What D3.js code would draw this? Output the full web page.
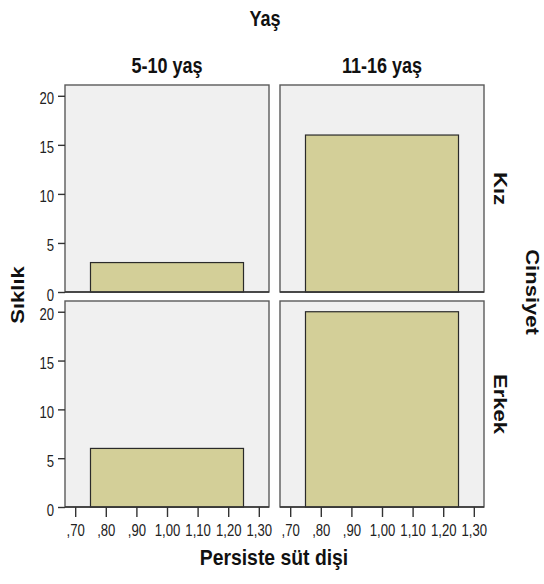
<!DOCTYPE html>
<html><head><meta charset="utf-8">
<script src="https://cdn.jsdelivr.net/npm/d3@7"></script>
<style>body{margin:0;background:#fff}svg{display:block}text{font-family:"Liberation Sans",Arial,sans-serif}</style>
</head><body>
<svg id="c" width="544" height="584"></svg>
<script>
const ageGroups = ["5-10 yaş", "11-16 yaş"];
const genders = ["Kız", "Erkek"];
// counts per [gender][age] for bin 0.75–1.25
const counts = [[3, 16], [6, 20]];
const binStart = 0.75, binEnd = 1.25;
const xTicks = [0.7, 0.8, 0.9, 1.0, 1.1, 1.2, 1.3];
const yTicks = [0, 5, 10, 15, 20];

const svg = d3.select("#c");
const colX = [[65, 269], [280, 484]];
const rowY = [[85, 292], [301, 507]];
const fmt = v => d3.format(".2f")(v).replace(".", ",").replace(/^0/, "");
const SX = 0.82; // horizontal text compression

const fillBg = "#f0f0f0", border = "#5a5a5a", barFill = "#d3cf98", barStroke = "#2a2a2a";

genders.forEach((g, r) => {
  ageGroups.forEach((a, c) => {
    const x = d3.scaleLinear().domain([0.6667, 1.3333]).range(colX[c]);
    const y = d3.scaleLinear().domain([0, 21.1]).range([rowY[r][1], rowY[r][0]]);
    const p = svg.append("g");
    p.append("rect").attr("x", colX[c][0]).attr("y", rowY[r][0])
      .attr("width", colX[c][1] - colX[c][0]).attr("height", rowY[r][1] - rowY[r][0])
      .attr("fill", fillBg).attr("stroke", border).attr("stroke-width", 1.4);
    p.append("rect").attr("x", x(binStart)).attr("y", y(counts[r][c]))
      .attr("width", x(binEnd) - x(binStart)).attr("height", y(0) - y(counts[r][c]))
      .attr("fill", barFill).attr("stroke", barStroke).attr("stroke-width", 1.2);
    p.append("line").attr("x1", colX[c][0]).attr("x2", colX[c][1])
      .attr("y1", y(0)).attr("y2", y(0)).attr("stroke", "#333").attr("stroke-width", 1.5);
    if (c === 0) {
      const ya = svg.append("g").attr("transform", `translate(${colX[0][0]},0)`)
        .call(d3.axisLeft(y).tickValues(yTicks).tickSize(7).tickFormat(d3.format("d")));
      ya.select(".domain").remove();
      ya.selectAll("line").attr("stroke", "#333").attr("stroke-width", 1.4);
      ya.selectAll("text").attr("font-size", 16).attr("fill", "#222")
        .attr("x", -11 / SX).attr("dy", "0.5em").attr("transform", `scale(${SX},1)`);
    }
    if (r === 1) {
      const xa = svg.append("g").attr("transform", `translate(0,${rowY[1][1]})`)
        .call(d3.axisBottom(x).tickValues(xTicks).tickSize(10).tickPadding(8).tickFormat(fmt));
      xa.select(".domain").remove();
      xa.selectAll("line").attr("stroke", "#333").attr("stroke-width", 1.4);
      xa.selectAll("text").attr("font-size", 16).attr("fill", "#222")
        .attr("transform", `scale(${SX},1)`);
    }
  });
});

function label(txt, x, y, rot, size, sx) {
  svg.append("text")
    .attr("transform", `translate(${x},${y}) scale(${sx || SX},1) rotate(${rot})`)
    .attr("text-anchor", "middle").attr("font-size", size).attr("font-weight", "bold")
    .attr("fill", "#111").text(txt);
}
label("Yaş", 265, 26, 0, 22);
ageGroups.forEach((a, c) => label(a, (colX[c][0] + colX[c][1]) / 2, 73, 0, 22));
genders.forEach((g, r) => label(g, 494, (rowY[r][0] + rowY[r][1]) / 2, 90, 22));
label("Cinsiyet", 526, 292, 90, 22);
label("Sıklık", 24, 295, -90, 22);
label("Persiste süt dişi", 274, 565, 0, 22, 0.88);
</script>
</body></html>
